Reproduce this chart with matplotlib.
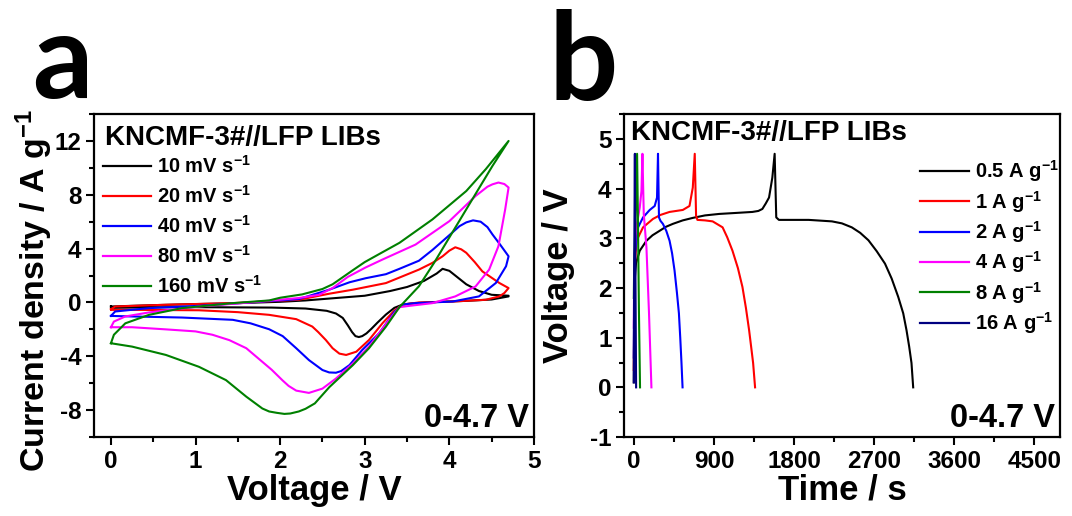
import matplotlib
matplotlib.use('Agg')
import matplotlib.pyplot as plt
from matplotlib.ticker import MultipleLocator

plt.rcParams['font.family'] = ['Liberation Sans', 'DejaVu Sans']
plt.rcParams['font.weight'] = 'bold'
plt.rcParams['axes.unicode_minus'] = False
plt.rcParams['mathtext.fontset'] = 'custom'
plt.rcParams['mathtext.rm'] = 'Liberation Sans:bold'
plt.rcParams['mathtext.bf'] = 'Liberation Sans:bold'
plt.rcParams['mathtext.default'] = 'bf'

# ---- panel a: CV curves (voltage V, current density A/g), one closed loop per scan rate
cv_labels = ['10 mV s$^{-1}$', '20 mV s$^{-1}$', '40 mV s$^{-1}$', '80 mV s$^{-1}$', '160 mV s$^{-1}$']
cv_colors = ['black', 'red', 'blue', 'magenta', 'green']

v10 = [0, 0.5, 1.0, 1.5, 2.0, 2.3, 2.6, 3.0, 3.3, 3.5, 3.7, 3.85, 3.92, 4.0, 4.1, 4.2, 4.35, 4.5, 4.7,
       4.7, 4.5, 4.2, 3.9, 3.6, 3.45, 3.35, 3.25, 3.15, 3.08, 3.02, 2.97, 2.93, 2.89, 2.85, 2.8, 2.74, 2.66, 2.55, 2.3, 1.9, 1.0, 0.5, 0, 0]
i10 = [-0.3, -0.2, -0.12, -0.05, 0.05, 0.15, 0.3, 0.5, 0.85, 1.15, 1.6, 2.15, 2.5, 2.35, 1.85, 1.35, 0.85, 0.57, 0.5,
       0.45, 0.22, 0.12, 0.05, -0.05, -0.15, -0.4, -0.9, -1.5, -1.95, -2.3, -2.5, -2.57, -2.5, -2.2, -1.7, -1.15, -0.82, -0.62, -0.45, -0.38, -0.35, -0.36, -0.4, -0.3]

v20 = [0, 0.05, 0.65, 1.44, 2.22, 2.58, 2.86, 3.25, 3.64, 3.8, 3.92, 4.0, 4.07, 4.14, 4.2, 4.3, 4.39, 4.59, 4.7,
       4.7, 4.65, 4.59, 4.43, 4.04, 3.64, 3.45, 3.35, 3.21, 3.05, 2.9, 2.78, 2.7, 2.62, 2.54, 2.45, 2.38, 2.19, 1.87, 1.5, 1.04, 0.25, 0, 0]
i20 = [-0.5, -0.3, -0.17, -0.05, 0.2, 0.65, 0.95, 1.44, 2.44, 2.94, 3.43, 3.85, 4.1, 3.95, 3.69, 3.0, 2.31, 1.45, 1.07,
       1.07, 0.7, 0.45, 0.2, 0.07, 0.0, -0.15, -0.6, -1.54, -2.79, -3.66, -3.9, -3.8, -3.4, -2.79, -2.2, -1.79, -1.24, -0.92, -0.72, -0.58, -0.55, -0.55, -0.5]

v40 = [0, 0.05, 0.45, 1.04, 1.64, 2.22, 2.58, 2.82, 3.01, 3.25, 3.41, 3.64, 3.8, 4.0, 4.12, 4.2, 4.28, 4.37, 4.45, 4.51, 4.6, 4.7,
       4.67, 4.55, 4.35, 4.04, 3.6, 3.45, 3.35, 3.17, 2.97, 2.82, 2.72, 2.66, 2.58, 2.5, 2.34, 2.19, 2.03, 1.87, 1.65, 1.44, 0.84, 0.25, 0, 0]
i40 = [-1.0, -0.67, -0.42, -0.25, 0.0, 0.25, 0.95, 1.5, 1.8, 2.1, 2.5, 3.1, 3.9, 5.0, 5.67, 5.95, 6.1, 6.0, 5.6, 5.05, 4.3, 3.43,
       2.69, 1.45, 0.45, 0.07, -0.05, -0.15, -0.7, -2.29, -3.53, -4.65, -5.1, -5.22, -5.2, -5.02, -4.28, -3.4, -2.5, -1.99, -1.55, -1.29, -1.12, -1.04, -1.0, -1.0]

v80 = [0, 0.035, 0.17, 0.45, 1.04, 1.64, 2.22, 2.46, 2.62, 2.8, 3.01, 3.21, 3.6, 4.0, 4.31, 4.45, 4.51, 4.58, 4.65, 4.7,
       4.66, 4.58, 4.47, 4.31, 4.07, 3.8, 3.53, 3.41, 3.3, 3.05, 2.86, 2.66, 2.5, 2.34, 2.19, 2.1, 2.03, 1.9, 1.75, 1.6, 1.4, 1.2, 1.0, 0.65, 0.25, 0, 0]
i80 = [-1.84, -1.42, -1.04, -0.74, -0.3, 0.0, 0.33, 0.57, 1.07, 1.9, 2.6, 3.19, 4.3, 6.04, 7.91, 8.6, 8.78, 8.91, 8.8, 8.54,
       6.92, 4.18, 2.44, 1.19, 0.45, -0.05, -0.25, -0.35, -1.2, -3.28, -4.53, -5.65, -6.4, -6.72, -6.55, -6.2, -5.8, -5.0, -4.2, -3.4, -2.8, -2.4, -2.15, -2.0, -1.84, -1.84, -1.84]

v160 = [0, 0.035, 0.17, 0.45, 0.84, 1.44, 1.87, 2.0, 2.26, 2.5, 2.62, 2.86, 3.0, 3.2, 3.41, 3.8, 4.2, 4.43, 4.7,
        4.51, 4.2, 3.82, 3.64, 3.41, 3.25, 3.05, 2.86, 2.58, 2.41, 2.3, 2.22, 2.12, 2.05, 1.96, 1.87, 1.79, 1.6, 1.36, 1.04, 0.65, 0.25, 0]
i160 = [-3.03, -2.4, -1.55, -0.92, -0.42, -0.05, 0.15, 0.35, 0.6, 1.0, 1.35, 2.4, 3.0, 3.7, 4.43, 6.17, 8.28, 9.9, 12.0,
        10.15, 6.92, 2.95, 1.2, -0.35, -1.8, -3.4, -4.65, -6.3, -7.5, -7.9, -8.1, -8.25, -8.28, -8.2, -8.1, -7.88, -7.0, -5.77, -4.78, -3.9, -3.28, -3.03]

cv_v = [v10, v20, v40, v80, v160]
cv_i = [i10, i20, i40, i80, i160]

# ---- panel b: GCD curves (time s, voltage V), charge then discharge
gcd_labels = ['0.5 A g$^{-1}$', '1 A g$^{-1}$', '2 A g$^{-1}$', '4 A g$^{-1}$', '8 A g$^{-1}$', '16 A g$^{-1}$']
gcd_colors = ['black', 'red', 'blue', 'magenta', 'green', 'navy']

t05 = [0, 5, 12, 25, 67, 142, 210, 290, 360, 439, 550, 663, 800, 961, 1150, 1333, 1400, 1445, 1483, 1520, 1557, 1583,
       1601, 1631, 1966, 2227, 2339, 2450, 2544, 2637, 2730, 2823, 2898, 2972, 3028, 3065, 3095, 3121, 3140]
u05 = [0.1, 1.5, 2.2, 2.5, 2.75, 2.95, 3.06, 3.15, 3.23, 3.29, 3.36, 3.41, 3.46, 3.49, 3.51, 3.53, 3.55, 3.59, 3.7, 3.82, 4.22, 4.7,
       3.42, 3.37, 3.37, 3.34, 3.3, 3.22, 3.11, 2.96, 2.74, 2.49, 2.19, 1.82, 1.49, 1.15, 0.82, 0.49, 0.0]
t1 = [0, 4, 10, 30, 104, 216, 300, 402, 551, 626, 663, 685,
      700, 715, 800, 886, 998, 1050, 1109, 1170, 1221, 1260, 1296, 1320, 1341, 1363]
u1 = [0.35, 1.6, 2.4, 2.95, 3.22, 3.39, 3.47, 3.53, 3.57, 3.65, 4.02, 4.7,
      3.45, 3.37, 3.36, 3.34, 3.22, 3.02, 2.75, 2.4, 2.02, 1.6, 1.15, 0.8, 0.49, 0.0]
t2 = [0, 4, 12, 48, 104, 179, 235, 261, 272,
      283, 300, 327, 365, 402, 430, 458, 485, 507, 522, 536, 548]
u2 = [0.6, 1.8, 2.7, 3.22, 3.42, 3.57, 3.65, 3.82, 4.7,
      3.42, 3.35, 3.29, 3.15, 2.95, 2.7, 2.35, 1.9, 1.49, 1.0, 0.49, 0.0]
t4 = [0, 5, 22, 67, 86, 97,
      112, 142, 171, 198]
u4 = [1.2, 2.4, 3.15, 3.62, 3.95, 4.7,
      3.49, 2.82, 1.49, 0.0]
t8 = [0, 4, 11, 37,
      48, 58, 70]
u8 = [1.8, 2.4, 2.82, 4.7,
      3.15, 1.5, 0.0]
t16 = [0, 3, 12,
       16, 22, 26]
u16 = [0.1, 2.0, 4.7,
       3.0, 1.2, 0.0]

gcd_t = [t05, t1, t2, t4, t8, t16]
gcd_u = [u05, u1, u2, u4, u8, u16]

fig = plt.figure(figsize=(10.72, 5.16), dpi=100)
ax1 = fig.add_axes([0.0877, 0.153, 0.4104, 0.626])
ax2 = fig.add_axes([0.5821, 0.153, 0.4067, 0.626])

for v, i, c, lab in zip(cv_v, cv_i, cv_colors, cv_labels):
    ax1.plot(v, i, color=c, lw=1.5, label=lab)
for t, u, c, lab in zip(gcd_t, gcd_u, gcd_colors, gcd_labels):
    ax2.plot(t, u, color=c, lw=1.5, label=lab)

ax1.set_xlim(-0.2, 5.0)
ax1.set_ylim(-10, 14)
ax1.xaxis.set_major_locator(MultipleLocator(1))
ax1.xaxis.set_minor_locator(MultipleLocator(0.5))
ax1.set_yticks([-8, -4, 0, 4, 8, 12])
ax1.yaxis.set_minor_locator(MultipleLocator(2))
ax1.set_xlabel('Voltage / V', fontsize=25, fontweight='bold', labelpad=1)
ax1.set_ylabel('Current density / A g$^{-1}$', fontsize=24.5, fontweight='bold')
ax1.yaxis.set_label_coords(-0.088, 0.455)

ax2.set_xlim(-110, 4790)
ax2.set_ylim(-1, 5.5)
ax2.set_xticks([0, 900, 1800, 2700, 3600, 4500])
ax2.xaxis.set_minor_locator(MultipleLocator(450))
ax2.set_yticks([-1, 0, 1, 2, 3, 4, 5])
ax2.yaxis.set_minor_locator(MultipleLocator(0.5))
ax2.set_xlabel('Time / s', fontsize=25, fontweight='bold', labelpad=1)
ax2.set_ylabel('Voltage / V', fontsize=25, fontweight='bold', labelpad=11)

for ax in (ax1, ax2):
    for s in ax.spines.values():
        s.set_linewidth(1.6)
    ax.tick_params(which='both', direction='out', top=False, right=False, width=1.5)
    ax.tick_params(which='major', length=6, labelsize=17.5, pad=3)
    ax.tick_params(which='minor', length=3.5)
    for lbl in ax.get_xticklabels() + ax.get_yticklabels():
        lbl.set_fontweight('bold')
    ax.text(0.988, 0.032, '0-4.7 V', transform=ax.transAxes, ha='right', va='baseline',
            fontsize=23.5, fontweight='bold')

ax1.text(0.025, 0.904, 'KNCMF-3#//LFP LIBs', transform=ax1.transAxes, ha='left', va='baseline',
         fontsize=20, fontweight='bold')
ax2.text(0.016, 0.92, 'KNCMF-3#//LFP LIBs', transform=ax2.transAxes, ha='left', va='baseline',
         fontsize=20, fontweight='bold')

leg_kw = dict(frameon=False, fontsize=14.5, handlelength=2.4, handletextpad=0.3,
              borderpad=0, borderaxespad=0, loc='upper left')
l1 = ax1.legend(bbox_to_anchor=(0.02, 0.872), labelspacing=0.4, **leg_kw)
l2 = ax2.legend(bbox_to_anchor=(0.68, 0.863), labelspacing=0.22, **leg_kw)
for leg in (l1, l2):
    for line in leg.get_lines():
        line.set_linewidth(1.6)

fig.text(0.03, 0.81, 'a', fontsize=86, fontweight='bold', family=['Lato', 'DejaVu Sans'],
         ha='left', va='baseline')
fig.text(0.512, 0.806, 'b', fontsize=88, fontweight='bold', family=['Lato', 'DejaVu Sans'],
         ha='left', va='baseline')

fig.savefig('out.png', dpi=100)
